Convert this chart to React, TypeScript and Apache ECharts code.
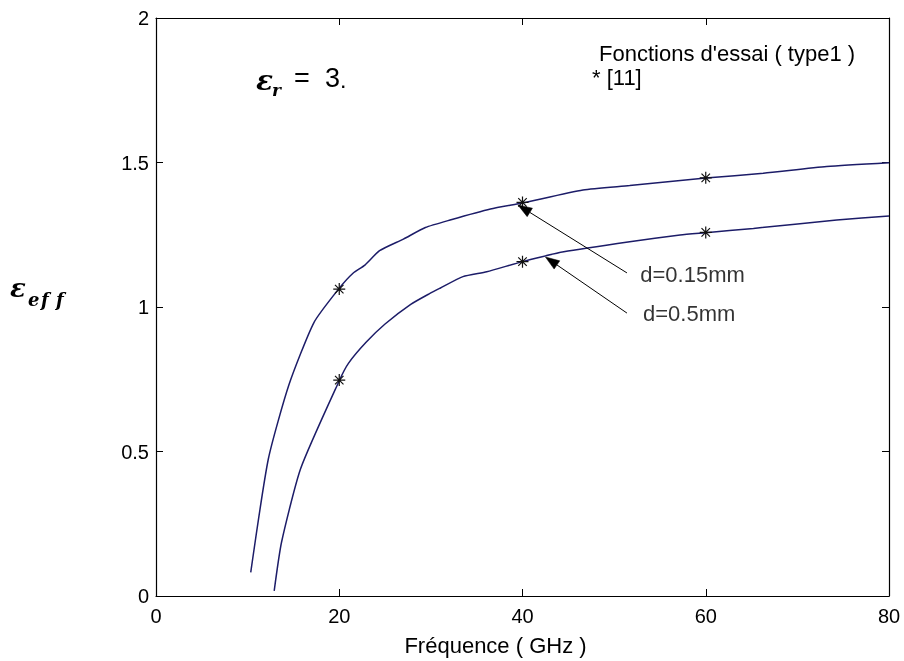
import React, { useEffect, useRef } from 'react';
import * as echarts from 'echarts';

// d = 0.15 mm curve (Fonctions d'essai, type1)
const FREQ_015 = [10.34, 12.26, 14.5, 17.25, 20.0, 21.5, 22.8, 24.4, 27.0, 29.4, 32.1, 36.5, 40.0, 46.6, 51.7, 60.0, 66.3, 73.2, 80];
const EPS_015 = [0.082, 0.474, 0.73, 0.947, 1.065, 1.117, 1.145, 1.195, 1.235, 1.275, 1.301, 1.339, 1.36, 1.405, 1.42, 1.446, 1.463, 1.486, 1.499];
// d = 0.5 mm curve
const FREQ_05 = [12.9, 13.7, 15.8, 20.0, 21.0, 22.9, 25.0, 27.8, 29.9, 31.0, 33.5, 36.1, 40.0, 44.5, 51.7, 57.2, 60, 65.2, 74.3, 80];
const EPS_05 = [0.018, 0.186, 0.442, 0.745, 0.805, 0.877, 0.941, 1.009, 1.047, 1.065, 1.105, 1.122, 1.157, 1.191, 1.226, 1.249, 1.257, 1.272, 1.301, 1.315];
// reference [11] points (asterisks)
const REF_FREQ = [20, 40, 60];
const REF_015 = [1.062, 1.362, 1.447];
const REF_05 = [0.747, 1.157, 1.258];

// annotations (data coordinates)
const ARROW_LABELS = ['d=0.15mm', 'd=0.5mm'];
const ARROW_FROM = [[51.4, 1.118], [51.4, 0.979]];
const ARROW_TO = [[39.5, 1.353], [42.5, 1.173]];
const LABEL_AT = [[52.8, 1.111], [53.1, 0.979]];

const X_MIN = 0, X_MAX = 80, X_STEP = 20;
const Y_MIN = 0, Y_MAX = 2, Y_STEP = 0.5;

const FONT = "'Liberation Sans', Arial, sans-serif";
const SERIF = "'DejaVu Serif', serif";
const LINE_COLOR = '#1c1c68';
const ASTERISK = 'path://M6,0L6,12M0,6L12,6M1.76,1.76L10.24,10.24M1.76,10.24L10.24,1.76';

const zip = (xs: number[], ys: number[]) => xs.map((x, i) => [x, ys[i]]);

export default function App() {
  const ref = useRef<HTMLDivElement>(null);
  useEffect(() => {
    document.body.style.margin = '0';
    if (!ref.current) return;
    const chart = echarts.init(ref.current, undefined, { renderer: 'svg' });
    const axisCommon = {
      type: 'value' as const,
      axisLine: { show: true, onZero: false, lineStyle: { color: '#000', width: 1.2 } },
      axisTick: { show: true, inside: true, length: 7, lineStyle: { color: '#000' } },
      splitLine: { show: false },
    };
    const tickFont = { color: '#000', fontSize: 20, fontFamily: FONT };
    const eText = (x: number, y: number, text: string, size: number, italic: boolean, bold = false, family = FONT) => ({
      type: 'text', x, y,
      style: {
        text, fill: '#000', fontSize: size, fontFamily: family,
        fontStyle: italic ? 'italic' : 'normal', fontWeight: bold ? 'bold' : 'normal',
        align: 'left', verticalAlign: 'middle',
      },
    });
    const baseGraphic: any[] = [
      eText(599, 53, "Fonctions d'essai ( type1 )", 22, false),
      eText(592, 77, '* [11]', 22, false),
      // epsilon_r = 3.
      eText(256, 80, 'ε', 28, true, true, SERIF),
      eText(272, 90, 'r', 17, true, true, SERIF),
      eText(294, 78, '=', 27, false, false, FONT),
      eText(325, 78, '3', 27, false, false, FONT),
      eText(341, 82, '.', 16, false, true, FONT),
      // epsilon_eff (y axis label)
      eText(10, 288, 'ε', 26, true, true, SERIF),
      eText(28, 299, 'e', 18, true, true, SERIF),
      eText(41, 299, 'f', 18, true, true, SERIF),
      eText(56, 299, 'f', 18, true, true, SERIF),
    ];
    chart.setOption({
      animation: false,
      grid: { left: 156, right: 15, top: 18, bottom: 65, containLabel: false },
      xAxis: [
        {
          ...axisCommon, position: 'bottom', min: X_MIN, max: X_MAX, interval: X_STEP,
          axisLabel: { ...tickFont, margin: 10 },
          name: 'Fréquence ( GHz )', nameLocation: 'middle', nameGap: 38,
          nameTextStyle: { color: '#000', fontSize: 22, fontFamily: FONT, padding: [0, 54, 0, 0] },
        },
        {
          ...axisCommon, position: 'top', min: X_MIN, max: X_MAX, interval: X_STEP,
          axisLabel: { show: false },
        },
      ],
      yAxis: [
        {
          ...axisCommon, position: 'left', min: Y_MIN, max: Y_MAX, interval: Y_STEP,
          axisLabel: { ...tickFont, margin: 7 },
        },
        {
          ...axisCommon, position: 'right', min: Y_MIN, max: Y_MAX, interval: Y_STEP,
          axisLabel: { show: false },
        },
      ],
      series: [
        {
          type: 'line', name: 'd=0.15mm', data: zip(FREQ_015, EPS_015), showSymbol: false,
          symbol: 'none', smooth: 0.2, lineStyle: { color: LINE_COLOR, width: 1.5 }, z: 3,
        },
        {
          type: 'line', name: 'd=0.5mm', data: zip(FREQ_05, EPS_05), showSymbol: false,
          symbol: 'none', smooth: 0.2, lineStyle: { color: LINE_COLOR, width: 1.5 }, z: 3,
        },
        {
          type: 'scatter', name: '[11]', data: [...zip(REF_FREQ, REF_015), ...zip(REF_FREQ, REF_05)],
          symbol: ASTERISK, symbolSize: 12,
          itemStyle: { color: 'none', borderColor: '#111', borderWidth: 1.2, opacity: 1 }, z: 4,
        },
        {
          type: 'scatter', data: LABEL_AT.map((p, i) => ({ value: p, name: ARROW_LABELS[i] })),
          symbolSize: 1, itemStyle: { color: 'rgba(0,0,0,0)' },
          label: {
            show: true, position: 'right', distance: 0, formatter: '{b}',
            color: '#000', fontSize: 22, fontFamily: FONT, align: 'left', verticalAlign: 'middle',
          },
        },
      ],
      graphic: baseGraphic,
    });

    // arrows: endpoints converted from data coordinates
    const arrows: any[] = [];
    ARROW_FROM.forEach((from, i) => {
      const a = chart.convertToPixel({ gridIndex: 0 }, from) as number[];
      const b = chart.convertToPixel({ gridIndex: 0 }, ARROW_TO[i]) as number[];
      const dx = b[0] - a[0], dy = b[1] - a[1];
      const len = Math.hypot(dx, dy);
      const ux = dx / len, uy = dy / len;
      const nx = -uy, ny = ux;
      const L = 14, W = 5;
      const bx = b[0] - L * ux, by = b[1] - L * uy;
      arrows.push({
        type: 'line', silent: true, z: 10,
        shape: { x1: a[0], y1: a[1], x2: bx, y2: by },
        style: { stroke: '#000', lineWidth: 1 },
      });
      arrows.push({
        type: 'polygon', silent: true, z: 10,
        shape: { points: [[b[0], b[1]], [bx + W * nx, by + W * ny], [bx - W * nx, by - W * ny]] },
        style: { fill: '#000', stroke: '#000', lineWidth: 0.5 },
      });
    });
    chart.setOption({ graphic: [...baseGraphic, ...arrows] });
    return () => chart.dispose();
  }, []);
  return <div ref={ref} style={{ position: 'fixed', left: 0, top: 0, width: 904, height: 661 }} />;
}
